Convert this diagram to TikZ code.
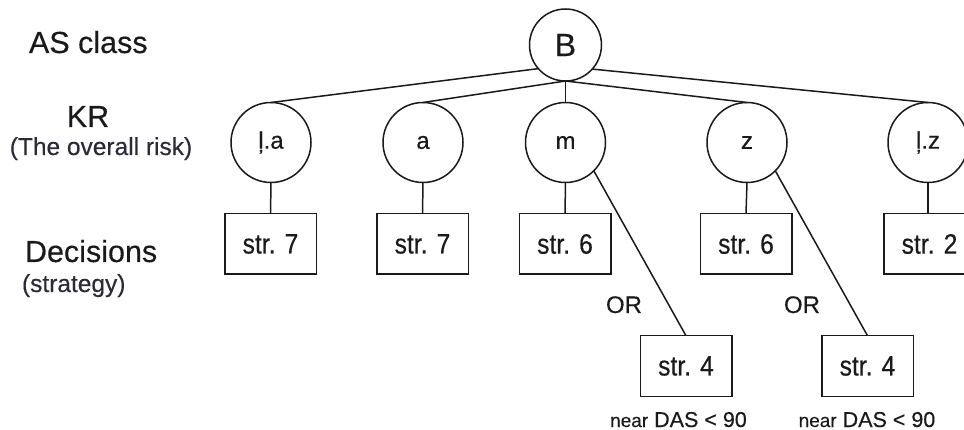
\documentclass[tikz,border=0pt]{standalone}
\usepackage{fontspec}
\setmainfont{Liberation Sans}[FakeBold=0.3]
\newfontfamily\boxfont{Liberation Sans}[FakeStretch=0.88, FakeBold=0.4]
\definecolor{ink}{HTML}{1A1A1A}
\definecolor{subink}{HTML}{2A2A38}
\begin{document}
\begin{tikzpicture}[x=1pt,y=-1pt,
  every node/.style={inner sep=0pt, outer sep=0pt},
  conn/.style={line width=1.5pt, draw=ink},
  circ/.style={circle, draw=ink, line width=1.5pt, minimum size=80pt, text=ink, font=\fontsize{24}{24}\selectfont},
  stratbox/.style={rectangle, draw=ink, line width=1.5pt, minimum width=91.5pt, minimum height=60.5pt, text=ink, font=\boxfont\fontsize{28}{28}\selectfont},
  headlbl/.style={text=ink, font=\fontsize{30.5}{30.5}\selectfont},
  sublbl/.style={text=subink, font=\fontsize{24.5}{24.5}\selectfont},
  orlbl/.style={text=ink, font=\fontsize{24}{24}\selectfont},
  notelbl/.style={text=ink, font=\fontsize{21.5}{21.5}\selectfont}
]
\useasboundingbox (0,0) rectangle (964,430);
\fill[white] (0,0) rectangle (964,430);
\clip (0,0) rectangle (964,430);

% left labels
\node[headlbl, anchor=base west] (asclass) at (29,53) {AS class};
\node[headlbl, anchor=base] (kr) at (88,127) {KR};
\node[sublbl, anchor=base] (krsub) at (101,155) {(The overall risk)};
\node[headlbl, anchor=base west] (dec) at (25,262) {Decisions};
\node[sublbl, anchor=base west] (decsub) at (22,292) {(strategy)};

% circles
\node[circ, minimum size=72pt, font=\fontsize{32}{32}\selectfont] (B) at (565.5,45) {B};
\node[circ] (la) at (271,142.5) {ļ.a};
\node[circ] (a) at (423,142.5) {a};
\node[circ] (m) at (565.5,142.5) {m};
\node[circ] (z) at (747,142.5) {z};
\node[circ] (lz) at (928,142.5) {ļ.z};

% boxes
\node[stratbox] (s7a) at (270.5,244) {str. 7};
\node[stratbox] (s7b) at (422.5,244) {str. 7};
\node[stratbox] (s6a) at (565,244) {str. 6};
\node[stratbox] (s6b) at (746,244) {str. 6};
\node[stratbox] (s2) at (929.5,244) {str. 2};
\node[stratbox] (s4a) at (686,366) {str. 4};
\node[stratbox] (s4b) at (867.5,366) {str. 4};

% OR labels and notes
\node[orlbl, anchor=base] (or1) at (624,313) {OR};
\node[orlbl, anchor=base] (or2) at (802,313) {OR};
\node[notelbl, anchor=base] (n1) at (678.5,427) {{\fontsize{19}{19}\selectfont near} DAS < 90};
\node[notelbl, anchor=base] (n2) at (867,427) {{\fontsize{19}{19}\selectfont near} DAS < 90};

% connectors
\draw[conn] (B.221) -- (la.north);
\draw[conn] (B.south) -- (a.north);
\draw[conn] (B.south) -- (m.north);
\draw[conn] (B.south) -- (z.north);
\draw[conn] (B.-42) -- (lz.north);
\draw[conn] (la.south) -- (s7a.north);
\draw[conn] (a.south) -- (s7b.north);
\draw[conn] (m.south) -- (s6a.north);
\draw[conn] (z.south) -- (s6b.north);
\draw[conn] (lz.south) -- (lz.south |- s2.north);
\draw[conn] (m.-45) -- (s4a.north);
\draw[conn] (z.-45) -- (s4b.north);
\end{tikzpicture}
\end{document}
